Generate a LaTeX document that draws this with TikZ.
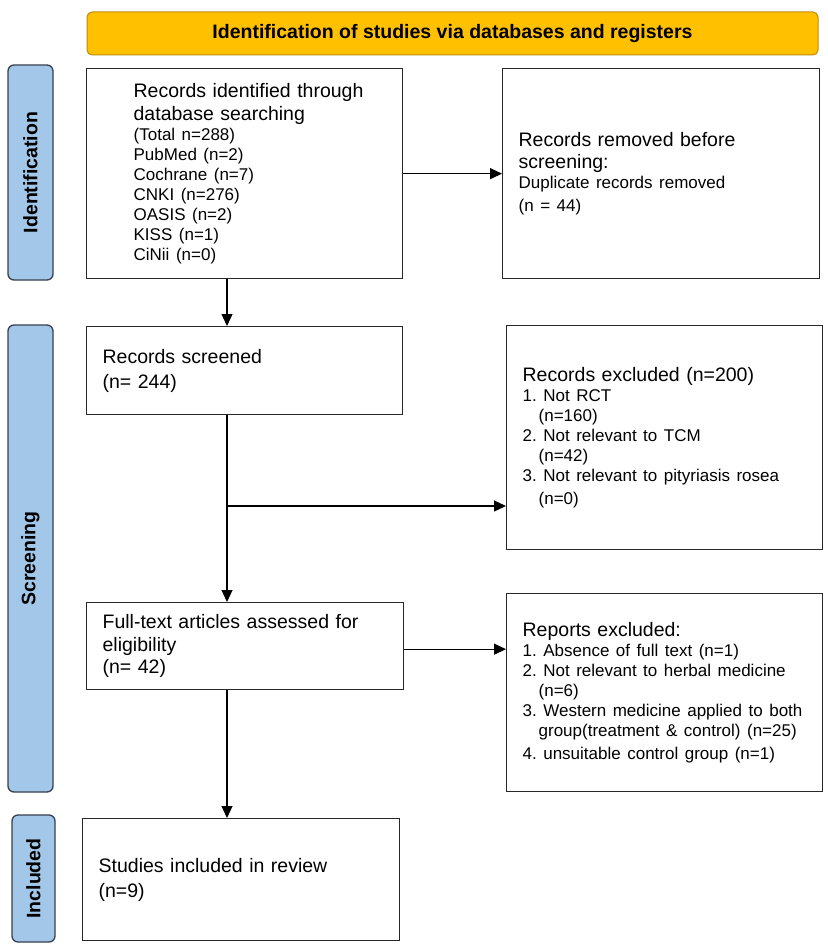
\documentclass[tikz,border=0pt]{standalone}
\usepackage{fontspec}
\setmainfont{Liberation Sans}
\usetikzlibrary{arrows.meta,calc}
\definecolor{hdrfill}{RGB}{255,192,0}
\definecolor{hdrdraw}{RGB}{190,140,10}
\definecolor{sidefill}{RGB}{163,199,233}
\definecolor{sidedraw}{RGB}{55,65,80}
\definecolor{boxdraw}{RGB}{40,40,40}
\newcommand\bigtxt{\fontsize{19.5}{22.5}\selectfont}
\newcommand\smtxt{\fontsize{17}{20}\selectfont}
\newcommand\ind{\hspace*{16pt}}
\begin{document}
\begin{tikzpicture}[x=1pt,y=-1pt,
  box/.style={draw=boxdraw, line width=1.3pt, rectangle, anchor=north west, align=left,
              inner xsep=16pt, inner ysep=0pt, font=\bigtxt},
  side/.style={draw=sidedraw, fill=sidefill, line width=1.3pt, rounded corners=6pt,
               inner sep=0pt, font=\fontsize{19.5}{22}\selectfont\bfseries, rotate=90},
  header/.style={draw=hdrdraw, fill=hdrfill, line width=1pt, rounded corners=5pt,
               inner sep=0pt, font=\fontsize{19.5}{22}\selectfont\bfseries},
  arr/.style={-{Triangle[length=12pt,width=11pt]}, line width=1.2pt, draw=black}]
\fill[white] (0,0) rectangle (827,950);
\useasboundingbox (0,0) rectangle (827,950);

% header
\node[header, minimum width=731pt, minimum height=43pt] (hdr) at (452.5,33.5)
  {Identification of studies via databases and registers};

% side labels
\node[side, minimum width=215pt, minimum height=45pt] (sid) at (30.5,172.5) {Identification};
\node[side, minimum width=467pt, minimum height=45pt] (sscr) at (30.5,558.5) {Screening};
\node[side, minimum width=127pt, minimum height=43pt] (sinc) at (33.5,878.5) {Included};

% boxes
\node[box, minimum width=316pt, minimum height=210pt, text width=284pt] (b1) at (86,68)
  {\leftskip=31pt Records identified through\\ database searching\par
   \smtxt (Total n=288)\\ PubMed (n=2)\\ Cochrane (n=7)\\ CNKI (n=276)\\ OASIS (n=2)\\ KISS (n=1)\\ CiNii (n=0)\par};

\node[box, minimum width=317pt, minimum height=210pt, text width=285pt] (b2) at (502,68)
  {Records removed before\\ screening:\par
   \smtxt Duplicate records removed\\ (n = 44)};

\node[box, minimum width=316pt, minimum height=88pt, text width=284pt] (b3) at (86,326)
  {Records screened\\[2.5pt] (n= 244)};

\node[box, minimum width=317pt, minimum height=87pt, text width=285pt] (b4) at (86,602)
  {Full-text articles assessed for\\ eligibility\\ (n= 42)};

\node[box, minimum width=316pt, minimum height=224pt, text width=284pt] (b5) at (506,325)
  {Records excluded (n=200)\par
   \smtxt 1.\ Not RCT\\ \ind(n=160)\\ 2.\ Not relevant to TCM\\ \ind(n=42)\\
   3.\ Not relevant to pityriasis rosea\\ \ind(n=0)};

\node[box, minimum width=316pt, minimum height=198pt, text width=284pt] (b6) at (506,593)
  {Reports excluded:\par
   \smtxt 1.\ Absence of full text (n=1)\\ 2.\ Not relevant to herbal medicine\\ \ind(n=6)\\
   3.\ Western medicine applied to both\\ \ind group(treatment \& control) (n=25)\\
   4.\ unsuitable control group (n=1)};

\node[box, minimum width=317pt, minimum height=122pt, text width=285pt] (b7) at (82,818)
  {Studies included in review\\[2.5pt] (n=9)};

% connectors
\coordinate (sp) at (227,0);
\coordinate (br) at (227,506);
\draw[arr] (b1.south -| sp) -- (b3.north -| sp);
\draw[arr] (b1.east) -- (b2.west);
\draw[arr] (b3.south -| sp) -- (b4.north -| sp);
\draw[arr] (br) -- (b5.west |- br);
\draw[arr] ($(b4.east)+(0,3)$) -- (b6.west |- {$(b4.east)+(0,3)$});
\draw[arr] (b4.south -| sp) -- (b7.north -| sp);
\end{tikzpicture}
\end{document}
